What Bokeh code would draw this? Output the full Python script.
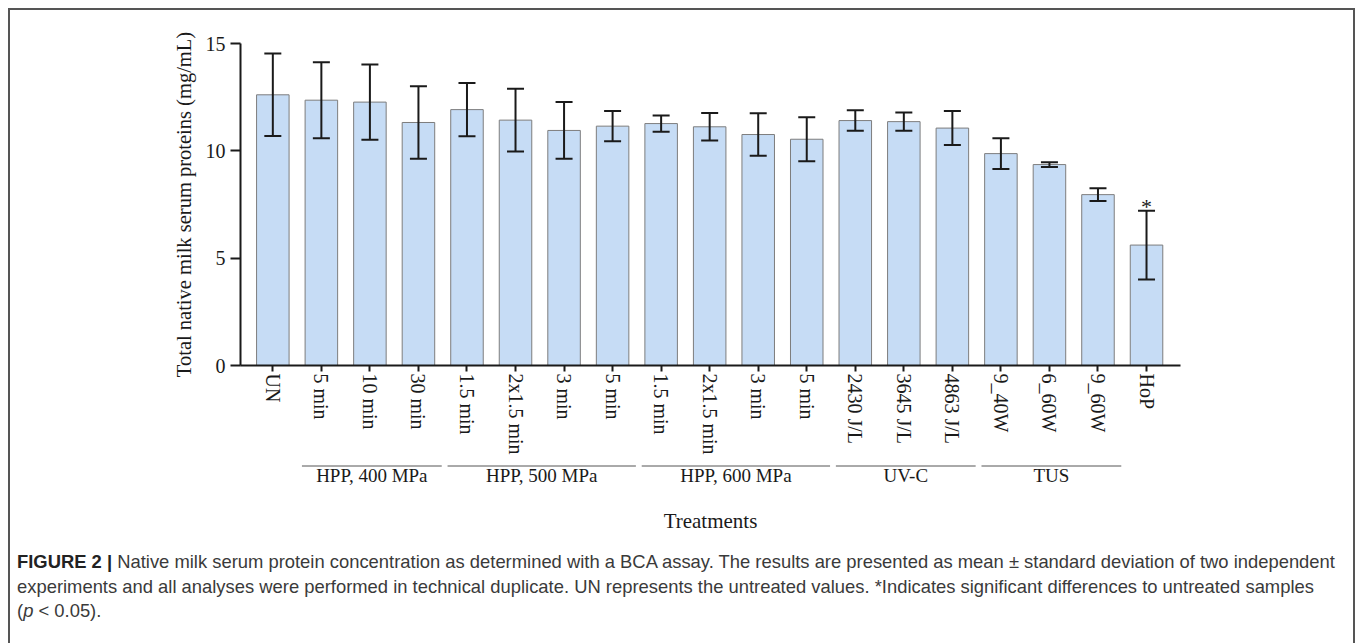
from bokeh.plotting import figure
from bokeh.models import Range1d, FixedTicker, Whisker, TeeHead, ColumnDataSource, Div
from bokeh.layouts import column, row
from bokeh.embed import file_html
from bokeh.resources import INLINE
from bokeh.core.properties import value

# ---------------- data ----------------
categories = ["UN", "5 min", "10 min", "30 min",
              "1.5 min", "2x1.5 min", "3 min", "5 min",
              "1.5 min", "2x1.5 min", "3 min", "5 min",
              "2430 J/L", "3645 J/L", "4863 J/L",
              "9_40W", "6_60W", "9_60W", "HoP"]
means = [12.61, 12.36, 12.27, 11.32,
         11.92, 11.43, 10.95, 11.15,
         11.27, 11.12, 10.76, 10.54,
         11.41, 11.36, 11.06,
         9.87, 9.36, 7.96, 5.61]
sds = [1.92, 1.77, 1.75, 1.69,
       1.24, 1.46, 1.32, 0.70,
       0.38, 0.64, 0.99, 1.02,
       0.48, 0.43, 0.79,
       0.72, 0.11, 0.30, 1.60]
significant = [False] * 18 + [True]
group_names = ["HPP, 400 MPa", "HPP, 500 MPa", "HPP, 600 MPa", "UV-C", "TUS"]
group_sizes = [3, 4, 4, 3, 3]
group_start = 1  # index of first grouped category (after UN)
y_ticks = [0, 5, 10, 15]

# ---------------- styling ----------------
SERIF = "Liberation Serif"
INK = "#1a1a1a"
BAR_FILL = "#c6dcf5"
BAR_LINE = "#7d7d7d"
FRAME_COL = "#555555"
PAD = 8                     # white page margin before the frame
BW = 2                      # frame border width
FIG_W = 1343
MB_LEFT, MB_RIGHT = 230, 173
HA, HB, HC = 448, 98, 87
H_MID = HA + HB + HC

xs = list(range(len(categories)))
src = ColumnDataSource(dict(
    x=xs, mean=means,
    upper=[m + s for m, s in zip(means, sds)],
    lower=[m - s for m, s in zip(means, sds)],
))
x_range = Range1d(-0.666, len(categories) - 1 + 0.70)

# ---------------- main chart ----------------
p = figure(width=FIG_W, height=HA, x_range=x_range, y_range=Range1d(0, 15),
           output_backend="svg", toolbar_location=None,
           min_border_left=MB_LEFT, min_border_right=MB_RIGHT,
           min_border_top=33, min_border_bottom=93)
p.outline_line_color = None
p.xgrid.visible = False
p.ygrid.visible = False
p.background_fill_color = "white"
p.border_fill_color = "white"

p.vbar(x="x", top="mean", width=0.67, source=src,
       fill_color=BAR_FILL, line_color=BAR_LINE, line_width=1)

w = Whisker(base="x", upper="upper", lower="lower", source=src,
            line_color=INK, line_width=2, level="overlay",
            upper_head=TeeHead(size=17, line_color=INK, line_width=2),
            lower_head=TeeHead(size=17, line_color=INK, line_width=2))
p.add_layout(w)

sig_x = [x for x, s in zip(xs, significant) if s]
sig_y = [m + s for m, s, g in zip(means, sds, significant) if g]
p.text(x=sig_x, y=sig_y, text=["*"] * len(sig_x), text_align="center",
       text_baseline="middle", y_offset=-4, text_font=value(SERIF),
       text_font_size="22px", text_color=INK)

# y axis
p.yaxis.ticker = FixedTicker(ticks=y_ticks)
p.yaxis.minor_tick_line_color = None
p.yaxis.major_tick_in = 0
p.yaxis.major_tick_out = 10
p.yaxis.major_label_standoff = 5
p.yaxis.axis_label = "Total native milk serum proteins (mg/mL)"
p.yaxis.axis_label_standoff = 8
p.yaxis.axis_label_text_font = SERIF
p.yaxis.axis_label_text_font_style = "normal"
p.yaxis.axis_label_text_font_size = "20.5px"
p.yaxis.axis_label_text_color = INK

# x axis
p.xaxis.ticker = FixedTicker(ticks=xs)
p.xaxis.major_label_overrides = {i: c for i, c in zip(xs, categories)}
p.xaxis.major_label_orientation = "vertical"
p.xaxis.minor_tick_line_color = None
p.xaxis.major_tick_in = 0
p.xaxis.major_tick_out = 6
p.xaxis.major_label_standoff = 2

for ax in (p.xaxis, p.yaxis):
    ax.axis_line_width = 2
    ax.axis_line_color = INK
    ax.major_tick_line_width = 2
    ax.major_tick_line_color = INK
    ax.major_label_text_font = SERIF
    ax.major_label_text_font_size = "20px"
    ax.major_label_text_color = INK

# ---------------- group brackets + x title ----------------
g = figure(width=FIG_W, height=HB, x_range=x_range, y_range=Range1d(HB, 0),
           output_backend="svg", toolbar_location=None,
           x_axis_type=None, y_axis_type=None,
           min_border_left=MB_LEFT, min_border_right=MB_RIGHT,
           min_border_top=0, min_border_bottom=0)
g.outline_line_color = None
g.xgrid.visible = False
g.ygrid.visible = False
g.background_fill_color = "white"
g.border_fill_color = "white"

gx0, gx1, gxc = [], [], []
i = group_start
for n in group_sizes:
    first, last = xs[i], xs[i + n - 1]
    gx0.append(first - 0.40)
    gx1.append(last + 0.48)
    gxc.append((first - 0.40 + last + 0.48) / 2)
    i += n
g.segment(x0=gx0, x1=gx1, y0=[7.5] * len(gx0), y1=[7.5] * len(gx0),
          line_color="#555555", line_width=1)
g.text(x=gxc, y=[17] * len(gxc), text=group_names, text_align="center",
       text_baseline="middle", text_font=value(SERIF), text_font_size="19px",
       text_color=INK)
g.text(x=[(x_range.start + x_range.end) / 2], y=[62], text=["Treatments"],
       text_align="center", text_baseline="middle", text_font=value(SERIF),
       text_font_size="21px", text_color=INK)

# ---------------- caption ----------------
caption = (
    '<div style="position:relative;top:-6px;font-family:\'Liberation Sans\',Arial,sans-serif;'
    'font-size:18.4px;line-height:24.5px;color:#3a3a3a;white-space:nowrap;padding-left:7px;">'
    '<b style="color:#222222">FIGURE 2 |</b> Native milk serum protein concentration as '
    'determined with a BCA assay. The results are presented as mean &plusmn; standard '
    'deviation of two independent<br>experiments and all analyses were performed in '
    'technical duplicate. UN represents the untreated values. *Indicates significant '
    'differences to untreated samples<br>(<i>p</i> &lt; 0.05).</div>'
)
d = Div(text=caption, width=FIG_W, height=HC, margin=0)


def block(wd, ht, color):
    return Div(text="", width=wd, height=ht, margin=0,
               styles={"background-color": color})


inner = column(p, g, d, spacing=0)
framed = column(block(FIG_W + 2 * BW, BW, FRAME_COL),
                row(block(BW, H_MID, FRAME_COL), inner, block(BW, H_MID, FRAME_COL),
                    spacing=0),
                spacing=0)
layout = column(block(PAD + FIG_W + 2 * BW, PAD, "white"),
                row(block(PAD, H_MID + BW, "white"), framed, spacing=0),
                spacing=0)

open("out.html", "w").write(file_html(layout, INLINE))
